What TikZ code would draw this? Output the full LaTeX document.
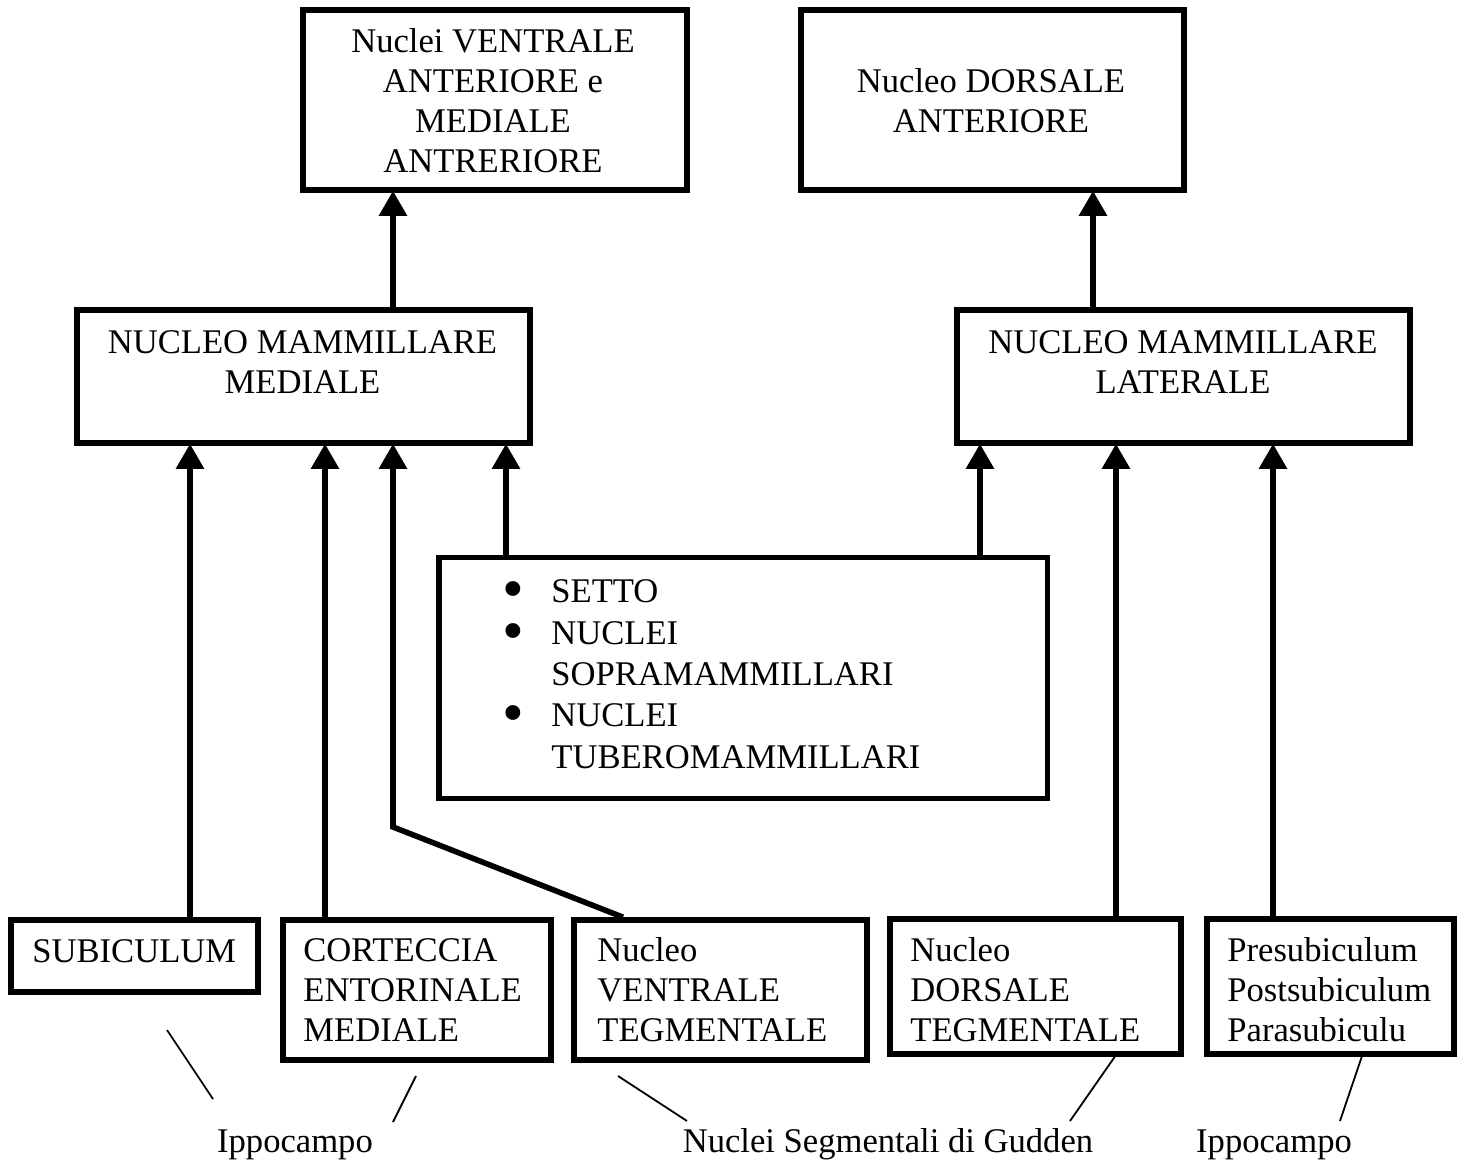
\documentclass[tikz,border=0pt]{standalone}
\usepackage{fontspec}
\setmainfont{Liberation Serif}
\usetikzlibrary{arrows.meta}
\newcommand{\bigbul}{\llap{\raisebox{-3.5pt}{\fontsize{31}{31}\selectfont •}\hspace{13.5pt}}}
\begin{document}
\begin{tikzpicture}[x=0.5pt,y=-0.5pt,
  box/.style={draw, line width=2.8pt, inner sep=0pt},
  txt/.style={inner sep=0pt, font=\fontsize{17.3}{20}\selectfont},
  arr/.style={line width=2.8pt, -{Triangle[width=13.5pt,length=12.5pt]}, shorten >=-1pt},
  ptr/.style={line width=0.9pt}]
\useasboundingbox (0,0) rectangle (1463,1160);

% boxes
\node[box, minimum width=192pt, minimum height=90pt] (va) at (495,100) {};
\node[box, minimum width=191.5pt, minimum height=90pt] (da) at (992.5,100) {};
\node[box, minimum width=226.5pt, minimum height=66.5pt] (nmm) at (303.5,376.5) {};
\node[box, minimum width=226.5pt, minimum height=66.5pt] (nml) at (1183.5,376.5) {};
\node[box, minimum width=304.25pt, minimum height=120.5pt] (bul) at (743.25,678) {};
\node[box, minimum width=123.5pt, minimum height=36pt] (sub) at (134.5,956) {};
\node[box, minimum width=134pt, minimum height=70pt] (cem) at (417,990) {};
\node[box, minimum width=146.5pt, minimum height=70pt] (nvt) at (720.5,990) {};
\node[box, minimum width=145.5pt, minimum height=67.5pt] (ndt) at (1035.5,986.5) {};
\node[box, minimum width=123.5pt, minimum height=67.5pt] (psb) at (1330.5,986.5) {};

% texts (anchor=base is the baseline of the last line)
\node[txt, anchor=base, align=center] (tva) at (493,173) {Nuclei VENTRALE\\ANTERIORE e\\MEDIALE\\ANTRERIORE};
\node[txt, anchor=base, align=center] (tda) at (991,133) {Nucleo DORSALE\\ANTERIORE};
\node[txt, anchor=base, align=center] (tnmm) at (302.5,394) {NUCLEO MAMMILLARE\\MEDIALE};
\node[txt, anchor=base, align=center] (tnml) at (1183,394) {NUCLEO MAMMILLARE\\LATERALE};
\node[txt, anchor=base west, align=left, font=\fontsize{17.3}{20.65}\selectfont] (tbul) at (551,768)
  {\bigbul SETTO\\\bigbul NUCLEI\\SOPRAMAMMILLARI\\\bigbul NUCLEI\\TUBEROMAMMILLARI};
\node[txt, anchor=base west] (tsub) at (32,962) {SUBICULUM};
\node[txt, anchor=base west, align=left] (tcem) at (303,1041) {CORTECCIA\\ENTORINALE\\MEDIALE};
\node[txt, anchor=base west, align=left] (tnvt) at (597,1041) {Nucleo\\VENTRALE\\TEGMENTALE};
\node[txt, anchor=base west, align=left] (tndt) at (910,1041) {Nucleo\\DORSALE\\TEGMENTALE};
\node[txt, anchor=base west, align=left] (tpsb) at (1227,1041) {Presubiculum\\Postsubiculum\\Parasubiculu};
\node[txt, anchor=base] (ip1) at (295,1152) {Ippocampo};
\node[txt, anchor=base] (gud) at (888,1152) {Nuclei Segmentali di Gudden};
\node[txt, anchor=base] (ip2) at (1274,1152) {Ippocampo};

% x positions of arrows
\coordinate (xa) at (393,0);
\coordinate (xb) at (1093,0);
\coordinate (x1) at (190,0);
\coordinate (x2) at (325,0);
\coordinate (x4) at (506,0);
\coordinate (x5) at (980,0);
\coordinate (x6) at (1116,0);
\coordinate (x7) at (1273,0);
\coordinate (x8) at (623,0);
\coordinate (bend) at (393,827);

% arrows
\draw[arr] (nmm.north -| xa) -- (va.south -| xa);
\draw[arr] (nml.north -| xb) -- (da.south -| xb);
\draw[arr] (sub.north -| x1) -- (nmm.south -| x1);
\draw[arr] (cem.north -| x2) -- (nmm.south -| x2);
\draw[arr] (nvt.north -| x8) -- (bend) -- (nmm.south -| bend);
\draw[arr] (bul.north -| x4) -- (nmm.south -| x4);
\draw[arr] (bul.north -| x5) -- (nml.south -| x5);
\draw[arr] (ndt.north -| x6) -- (nml.south -| x6);
\draw[arr] (psb.north -| x7) -- (nml.south -| x7);

% pointer lines
\coordinate (p1a) at (167,1030); \coordinate (p1b) at (213,1099);
\coordinate (p2a) at (416,1076); \coordinate (p2b) at (393,1122);
\coordinate (p3a) at (618,1076); \coordinate (p3b) at (687,1121);
\coordinate (p4a) at (1116,1055); \coordinate (p4b) at (1070,1121);
\coordinate (p5a) at (1362,1056); \coordinate (p5b) at (1340,1121);
\draw[ptr] (p1a) -- (p1b);
\draw[ptr] (p2a) -- (p2b);
\draw[ptr] (p3a) -- (p3b);
\draw[ptr] (p4a) -- (p4b);
\draw[ptr] (p5a) -- (p5b);
\end{tikzpicture}
\end{document}
